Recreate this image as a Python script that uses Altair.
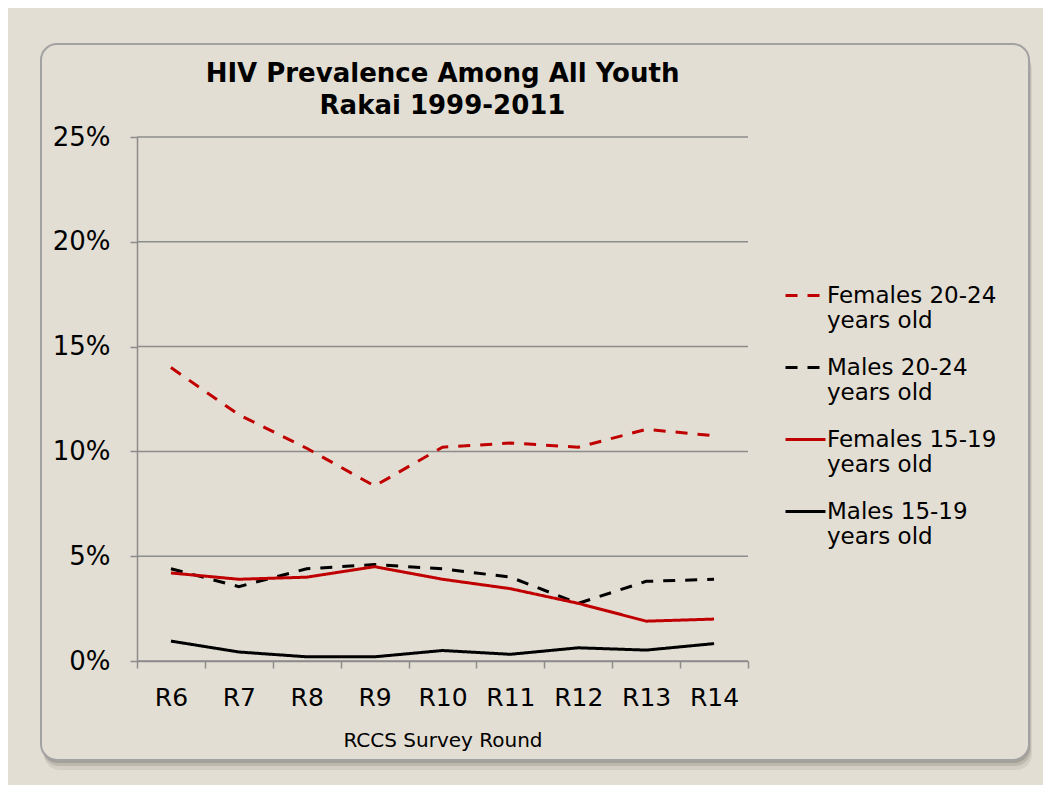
import altair as alt
import pandas as pd

rounds = ["R6", "R7", "R8", "R9", "R10", "R11", "R12", "R13", "R14"]
series_names = [
    "Females 20-24 years old",
    "Males 20-24 years old",
    "Females 15-19 years old",
    "Males 15-19 years old",
]
females_20_24 = [14.0, 11.75, 10.15, 8.35, 10.2, 10.4, 10.2, 11.05, 10.75]
males_20_24 = [4.4, 3.55, 4.4, 4.6, 4.4, 4.0, 2.75, 3.8, 3.9]
females_15_19 = [4.2, 3.9, 4.0, 4.5, 3.9, 3.45, 2.75, 1.9, 2.0]
males_15_19 = [0.95, 0.43, 0.2, 0.2, 0.5, 0.32, 0.63, 0.52, 0.83]
y_ticks = [0, 5, 10, 15, 20, 25]

series_colors = ["#c00000", "#000000", "#c00000", "#000000"]
series_dashes = [[12, 10], [12, 10], [1, 0], [1, 0]]

BG = "#e3ded3"
GRID = "#8c8c8c"
FONT = "DejaVu Sans"
LABEL_EXPR = "[slice(datum.label, 0, indexof(datum.label, ' years')), 'years old']"

rows = []
for name, vals in zip(series_names, [females_20_24, males_20_24, females_15_19, males_15_19]):
    for r, v in zip(rounds, vals):
        rows.append({"round": r, "series": name, "value": v})
df = pd.DataFrame(rows)

W, H = 611, 524
yscale = alt.Scale(domain=[0, 25], nice=False, zero=True)
yaxis = alt.Axis(
    values=y_ticks, labelExpr="datum.value + '%'", grid=False, title=None,
    domainColor=GRID, domainWidth=1.5, tickColor=GRID, tickWidth=1.5, tickSize=7,
    labelFontSize=26, labelFont=FONT, labelColor="#000000", labelPadding=20, zindex=1,
)

one = pd.DataFrame({"k": [0]})

shadows = []
for dx, dy, op in [(1, 3, 0.35), (2, 6, 0.25), (3, 10, 0.14)]:
    shadows.append(
        alt.Chart(one).mark_rect(cornerRadius=16, fill="#7a766e", opacity=op).encode(
            x=alt.value(-96 + dx), x2=alt.value(892 + dx),
            y=alt.value(-93 + dy), y2=alt.value(623 + dy),
        )
    )

panel = alt.Chart(one).mark_rect(
    cornerRadius=16, fill=BG, stroke="#a2a2a2", strokeWidth=2
).encode(
    x=alt.value(-96), x2=alt.value(892), y=alt.value(-93), y2=alt.value(623)
)

grid = alt.Chart(pd.DataFrame({"tick": y_ticks})).mark_rule(
    color=GRID, strokeWidth=1.5
).encode(y=alt.Y("tick:Q", scale=yscale, axis=yaxis))

lines = alt.Chart(df).mark_line(strokeWidth=3).encode(
    x=alt.X(
        "round:N", sort=rounds, bandPosition=0.5,
        scale=alt.Scale(type="band", domain=rounds, paddingInner=0, paddingOuter=0),
        axis=alt.Axis(
            title="RCCS Survey Round", titleFontSize=20, titleFont=FONT,
            titleFontWeight="normal", titleColor="#000000", titlePadding=20,
            labelAngle=0, labelFontSize=25, labelFont=FONT, labelColor="#000000",
            labelPadding=17, tickBand="extent", tickColor=GRID, tickWidth=1.5,
            tickSize=7, domainColor=GRID, domainWidth=1.5, zindex=1,
        ),
    ),
    y=alt.Y("value:Q", scale=yscale, axis=yaxis),
    color=alt.Color(
        "series:N", sort=series_names,
        scale=alt.Scale(domain=series_names, range=series_colors),
        legend=alt.Legend(title=None, labelExpr=LABEL_EXPR),
    ),
    strokeDash=alt.StrokeDash(
        "series:N", sort=series_names,
        scale=alt.Scale(domain=series_names, range=series_dashes),
        legend=alt.Legend(title=None, labelExpr=LABEL_EXPR),
    ),
)

chart = alt.layer(*shadows, panel, grid, lines).properties(
    width=W, height=H,
    title=alt.TitleParams(
        text=["HIV Prevalence Among All Youth", "Rakai 1999-2011"],
        fontSize=26, font=FONT, fontWeight="bold", color="#000000",
        anchor="middle", frame="group", lineHeight=32, offset=-76,
    ),
    autosize=alt.AutoSizeParams(type="none"),
    padding={"left": 129, "top": 129, "right": 295, "bottom": 124},
    background=BG,
).configure_view(stroke=None).configure_legend(
    orient="none", legendX=647, legendY=137, padding=0,
    symbolType="stroke", symbolSize=1600, symbolStrokeWidth=3,
    labelFontSize=23, labelFont=FONT, labelColor="#000000", labelLimit=0,
    labelOffset=0, rowPadding=13,
)

chart.save("out.html", embed_options={"renderer": "svg", "actions": False})
